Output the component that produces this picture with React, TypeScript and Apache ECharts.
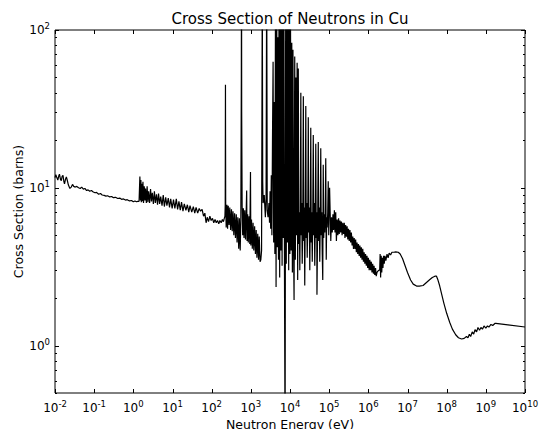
import { useEffect, useRef } from 'react';
import * as echarts from 'echarts';

const FONT = 'DejaVu Sans';

// Neutron energy (eV) / total cross section (barns) pairs, grouped by energy range.
const thermalRange: [number, number][] = [
  [0.01, 11.6], [0.0105, 12.1], [0.011, 11.7], [0.0118, 11.2], [0.0125, 11.9], [0.013, 12.2],
  [0.0138, 11.3], [0.0145, 11.1], [0.0152, 11.8], [0.016, 12.0], [0.0168, 11.0], [0.0175, 10.6],
  [0.0185, 11.3], [0.0195, 11.7], [0.0205, 11.2], [0.022, 10.4], [0.024, 9.9], [0.026, 10.1],
  [0.028, 10.5], [0.03, 10.2], [0.033, 10.1], [0.036, 10.2], [0.04, 10.0], [0.044, 9.9],
  [0.048, 10.1], [0.053, 9.8], [0.058, 9.9], [0.064, 9.6], [0.07, 9.7], [0.077, 9.5],
  [0.085, 9.6], [0.095, 9.4], [0.105, 9.3], [0.115, 9.35], [0.13, 9.1], [0.145, 9.2],
  [0.16, 9.0], [0.18, 8.95], [0.2, 8.85], [0.22, 8.9], [0.25, 8.75], [0.28, 8.8],
  [0.31, 8.65], [0.35, 8.7], [0.4, 8.55], [0.45, 8.6], [0.5, 8.45], [0.56, 8.5],
  [0.63, 8.35], [0.7, 8.4], [0.8, 8.25], [0.9, 8.3], [1.0, 8.15], [1.1, 8.25],
  [1.2, 8.15], [1.3, 8.2], [1.4, 8.2],
];

const epithermalRange: [number, number][] = [
  [1.47, 11.8], [1.52, 8.3], [1.56, 11.2], [1.6, 8.1], [1.65, 10.6], [1.7, 8.2],
  [1.76, 10.9], [1.82, 8.0], [1.9, 10.2], [1.98, 8.3], [2.05, 9.9], [2.15, 8.0],
  [2.25, 10.2], [2.35, 8.1], [2.45, 9.5], [2.6, 8.0], [2.75, 9.8], [2.9, 8.2],
  [3.05, 9.3], [3.25, 7.9], [3.45, 9.5], [3.65, 8.0], [3.9, 9.1], [4.15, 7.8],
  [4.4, 9.2], [4.7, 7.9], [5.0, 8.8], [5.4, 7.7], [5.8, 9.0], [6.2, 7.6],
  [6.7, 8.7], [7.2, 7.7], [7.8, 8.6], [8.4, 7.5], [9.0, 8.5], [9.8, 7.4],
  [10.6, 8.4], [11.5, 7.4], [12.5, 8.5], [13.5, 7.3], [14.6, 8.2], [15.8, 7.2],
  [17, 8.1], [18.5, 7.1], [20, 7.9], [22, 7.2], [24, 7.8], [26, 7.0],
  [28, 7.7], [31, 7.0], [34, 7.6], [37, 6.9], [40, 7.5], [44, 6.9],
  [48, 7.4], [52, 7.1], [57, 7.3], [62, 6.6], [67, 6.9], [72, 6.0],
  [77, 6.5], [83, 6.1], [90, 6.6], [97, 6.2], [105, 6.4], [113, 6.0],
  [122, 6.3], [131, 6.0], [141, 6.2], [152, 5.9], [162, 6.2], [175, 6.0],
  [188, 6.3], [200, 6.1], [210, 6.4],
];

const lowResonances: [number, number][] = [
  [218, 6.6], [222, 7.8], [225, 45], [228, 7.9], [235, 5.6], [245, 7.8],
  [255, 5.5], [265, 7.7], [278, 5.8], [290, 7.5], [305, 5.4], [320, 7.3],
  [335, 5.3], [350, 7.1], [368, 5.0], [385, 6.9], [405, 4.8], [425, 6.8],
  [445, 4.5], [465, 6.5], [490, 4.1], [510, 6.4], [535, 4.0], [555, 6.3],
  [572, 50], [578, 400], [584, 30], [600, 7.6], [620, 5.0], [645, 7.4],
  [670, 4.8], [700, 7.2], [730, 4.7], [760, 7.0], [783, 9.6], [800, 4.6],
  [830, 6.8], [860, 4.5], [900, 6.6], [940, 4.4], [980, 12.6], [1000, 4.3],
  [1040, 6.3], [1090, 4.1], [1140, 6.0], [1190, 4.0], [1250, 5.7], [1310, 3.8],
  [1370, 5.4], [1430, 3.6], [1500, 5.1], [1570, 3.5], [1640, 4.9], [1720, 3.4],
  [1800, 3.5], [1880, 4.0], [1960, 200], [2010, 11], [2060, 8.0], [2200, 9.0],
  [2350, 6.5], [2450, 8.5], [2540, 250], [2620, 7.2], [2750, 6.5], [2900, 8.0],
  [3000, 6.0],
];

const keVResonances: [number, number][] = [
  [3100, 9.5], [3210, 5.5], [3330, 12], [3450, 5.0], [3570, 20], [3700, 63],
  [3830, 4.5], [3970, 35], [4110, 3.8], [4260, 150], [4410, 2.35], [4570, 200],
  [4730, 4.2], [4900, 90], [5080, 3.5], [5260, 250], [5450, 2.7], [5650, 140],
  [5850, 4.0], [6060, 300], [6280, 3.2], [6500, 110], [6740, 4.8], [6980, 180],
  [7230, 2.9], [7490, 0.2], [7760, 160], [8040, 3.3], [8330, 220], [8630, 4.5],
  [8940, 130], [9260, 3.0], [9590, 260], [9940, 3.8], [10300, 120], [10700, 4.0],
  [11100, 83], [11500, 2.9], [11900, 75], [12300, 4.5], [12700, 1.94], [13200, 68],
  [13700, 3.5], [14200, 50], [14700, 5.0], [15200, 62], [15700, 2.6], [16300, 57],
  [16800, 4.4], [17300, 7.0], [17800, 3.0], [18300, 6.5], [18900, 40],
  [19400, 5.0], [19900, 8.0], [20500, 3.3], [21200, 6.0], [21900, 38],
  [22500, 4.6], [23100, 7.5], [23800, 2.4], [24500, 6.5], [25300, 33],
  [26000, 4.8], [26700, 8.0], [27500, 3.6], [28400, 6.0], [29300, 28],
  [30100, 5.2], [31000, 7.5], [32000, 3.0], [32900, 6.0], [33900, 24],
  [34900, 4.5], [35900, 7.0], [37000, 3.4], [38100, 6.5], [39300, 21.6],
  [40400, 5.0], [41600, 8.0], [42900, 3.2], [44200, 6.0], [45500, 19],
  [46800, 4.8], [48200, 7.0], [48800, 2.1], [51000, 6.5], [52700, 19.5],
  [54200, 4.6], [55800, 7.5], [57500, 3.4], [59200, 6.0], [61000, 17.8],
  [62800, 5.0], [64700, 7.0], [66600, 3.8], [68600, 2.6], [70600, 14],
  [72700, 4.8], [74900, 6.8], [77100, 5.2], [79400, 7.0], [81800, 15.4],
  [84200, 3.5], [86700, 6.5], [89300, 5.6], [92000, 7.0], [94700, 11],
  [97500, 5.0], [100000, 7.5], [102500, 10],
];

const unresolvedRange: [number, number][] = [
  [106000, 7.0], [110000, 4.6], [115000, 6.5], [120000, 5.2], [125000, 6.8], [130000, 5.4],
  [136000, 7.2], [141000, 5.2], [147000, 7.0], [153000, 4.6], [160000, 6.3], [167000, 5.0],
  [174000, 6.4], [181000, 5.1], [189000, 6.2], [197000, 5.2], [205000, 6.1], [214000, 5.0],
  [223000, 6.0], [233000, 5.1], [243000, 6.0], [253000, 4.8], [264000, 5.8], [275000, 4.9],
  [287000, 5.7], [299000, 4.7], [312000, 5.5], [325000, 4.6], [339000, 5.4], [354000, 4.5],
  [369000, 5.2], [385000, 4.3], [401000, 4.9], [418000, 4.1], [436000, 4.8], [455000, 4.1],
  [474000, 4.7], [494000, 3.9], [515000, 4.5], [537000, 3.8], [560000, 4.4], [584000, 3.7],
  [609000, 4.3], [635000, 3.6], [662000, 4.2], [690000, 3.5], [720000, 4.1], [750000, 3.4],
  [782000, 3.9], [815000, 3.3], [850000, 3.8], [886000, 3.2], [924000, 3.7], [963000, 3.1],
  [1.0e6, 3.6], [1.05e6, 3.0], [1.09e6, 3.5], [1.14e6, 3.0], [1.19e6, 3.4], [1.24e6, 2.9],
  [1.29e6, 3.3], [1.35e6, 2.85], [1.4e6, 3.2], [1.46e6, 2.8], [1.53e6, 3.1], [1.59e6, 2.75],
  [1.66e6, 2.9], [1.73e6, 2.95], [1.85e6, 3.0],
];

const fastRange: [number, number][] = [
  [1.95e6, 3.0], [2.0e6, 3.8], [2.06e6, 2.7], [2.13e6, 3.7], [2.2e6, 2.9], [2.28e6, 3.6],
  [2.36e6, 3.1], [2.45e6, 3.7], [2.55e6, 3.3], [2.65e6, 3.7], [2.8e6, 3.45], [3.0e6, 3.8],
  [3.2e6, 3.6], [3.4e6, 3.85], [3.7e6, 3.75], [4.0e6, 3.9], [4.5e6, 3.9], [5.0e6, 3.92],
  [5.8e6, 3.9], [6.5e6, 3.8], [7.5e6, 3.55], [8.5e6, 3.25], [1.0e7, 2.9], [1.2e7, 2.6],
  [1.4e7, 2.45], [1.7e7, 2.38], [2.0e7, 2.38], [2.5e7, 2.4], [3.0e7, 2.5], [3.6e7, 2.6],
  [4.3e7, 2.7], [5.0e7, 2.75], [5.5e7, 2.75], [6.0e7, 2.6], [6.6e7, 2.4], [7.5e7, 2.1],
  [8.5e7, 1.85], [1.0e8, 1.6], [1.2e8, 1.4], [1.4e8, 1.27], [1.7e8, 1.17], [2.0e8, 1.12],
  [2.4e8, 1.1], [2.8e8, 1.11], [3.2e8, 1.14], [3.5e8, 1.12], [3.8e8, 1.18], [4.1e8, 1.14],
  [4.5e8, 1.22], [4.9e8, 1.18], [5.3e8, 1.26], [5.8e8, 1.22], [6.3e8, 1.3], [6.9e8, 1.25],
  [7.5e8, 1.3], [8.2e8, 1.27], [9.0e8, 1.33], [1.0e9, 1.29], [1.1e9, 1.33], [1.2e9, 1.31],
  [1.35e9, 1.36], [1.5e9, 1.34], [1.7e9, 1.38], [1.8e9, 1.38], [1.0e10, 1.31],
];

// Axis ticks
const xTickValues = [1e-2, 1e-1, 1e0, 1e1, 1e2, 1e3, 1e4, 1e5, 1e6, 1e7, 1e8, 1e9, 1e10];
const yMajorTicks = [1, 10, 100];
const yMinorTicks = [0.5, 0.6, 0.7, 0.8, 0.9, 2, 3, 4, 5, 6, 7, 8, 9, 20, 30, 40, 50, 60, 70, 80, 90];

const crossSection = [
  ...thermalRange,
  ...epithermalRange,
  ...lowResonances,
  ...keVResonances,
  ...unresolvedRange,
  ...fastRange,
];

// [x, y, kind]: kind 0 = x major, 1 = y major, 2 = y minor
const tickData: number[][] = [
  ...xTickValues.map((v) => [v, 1, 0]),
  ...yMajorTicks.map((v) => [1, v, 1]),
  ...yMinorTicks.map((v) => [1, v, 2]),
];

const powerLabel = (v: number) => {
  const e = Math.round(Math.log10(v));
  if (Math.abs(v / Math.pow(10, e) - 1) > 1e-6) return '';
  const exp = e < 0 ? '-' + -e : String(e);
  return `{b|10}{s|${exp}}`;
};

const labelRich = {
  b: { fontSize: 12, fontFamily: FONT, color: '#000' },
  s: { fontSize: 8.5, fontFamily: FONT, color: '#000', padding: [0, 0, 8, 0] },
};

export default function App() {
  const ref = useRef<HTMLDivElement>(null);

  useEffect(() => {
    if (!ref.current) return;
    const chart = echarts.init(ref.current, undefined, { renderer: 'svg' });
    chart.setOption({
      animation: false,
      backgroundColor: '#fff',
      title: {
        text: 'Cross Section of Neutrons in Cu',
        left: 290,
        top: 11,
        padding: 0,
        textAlign: 'center',
        textStyle: { fontSize: 15, fontWeight: 'normal', color: '#000', fontFamily: FONT },
      },
      grid: {
        left: 55,
        right: 14,
        top: 30,
        bottom: 36,
        outerBoundsMode: 'none',
        containLabel: false,
        show: true,
        borderColor: '#000',
        borderWidth: 1,
        backgroundColor: 'transparent',
      },
      xAxis: {
        type: 'log',
        logBase: 10,
        min: 1e-2,
        max: 1e10,
        name: 'Neutron Energy (eV)',
        nameLocation: 'middle',
        nameGap: 25,
        nameMoveOverlap: false,
        nameTextStyle: { fontSize: 12.5, color: '#000', fontFamily: FONT },
        axisLine: { show: false },
        axisTick: { show: false },
        splitLine: { show: false },
        axisLabel: {
          customValues: xTickValues,
          formatter: powerLabel,
          rich: labelRich,
          margin: 6,
          color: '#000',
        },
      },
      yAxis: {
        type: 'log',
        logBase: 10,
        min: 0.5,
        max: 100,
        name: 'Cross Section (barns)',
        nameLocation: 'middle',
        nameGap: 30,
        nameMoveOverlap: false,
        nameTextStyle: { fontSize: 12.5, color: '#000', fontFamily: FONT },
        axisLine: { show: false },
        axisTick: { show: false },
        splitLine: { show: false },
        axisLabel: {
          customValues: yMajorTicks,
          formatter: powerLabel,
          rich: labelRich,
          margin: 5,
          color: '#000',
        },
      },
      series: [
        {
          type: 'line',
          data: crossSection,
          showSymbol: false,
          symbol: 'none',
          clip: true,
          lineStyle: { color: '#000', width: 1.2 },
          silent: true,
        },
        {
          type: 'custom',
          data: tickData,
          silent: true,
          renderItem: (params: any, api: any) => {
            const cs = params.coordSys;
            const kind = api.value(2);
            const pt = api.coord([api.value(0), api.value(1)]);
            const style = { stroke: '#000', lineWidth: 1 };
            if (kind === 0) {
              const x = Math.round(pt[0]) + 0.5;
              const yb = cs.y + cs.height;
              return {
                type: 'group',
                children: [
                  { type: 'line', shape: { x1: x, y1: yb, x2: x, y2: yb - 4 }, style },
                  { type: 'line', shape: { x1: x, y1: cs.y, x2: x, y2: cs.y + 4 }, style },
                ],
              };
            }
            const len = kind === 1 ? 4 : 2;
            const y = Math.round(pt[1]) + 0.5;
            const xr = cs.x + cs.width;
            return {
              type: 'group',
              children: [
                { type: 'line', shape: { x1: cs.x, y1: y, x2: cs.x + len, y2: y }, style },
                { type: 'line', shape: { x1: xr, y1: y, x2: xr - len, y2: y }, style },
              ],
            };
          },
        },
      ],
    });
    return () => chart.dispose();
  }, []);

  return (
    <div
      ref={ref}
      style={{ position: 'fixed', left: 0, top: 0, width: 539, height: 429, background: '#fff' }}
    />
  );
}
